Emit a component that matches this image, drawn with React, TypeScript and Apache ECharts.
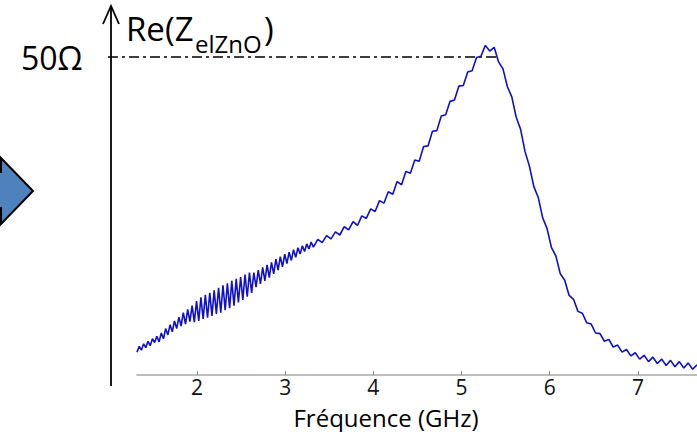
import React, { useEffect, useRef } from "react";
import * as echarts from "echarts";

// Frequency (GHz) and Re(Z_elZnO) (Ω)
const freqGHz: number[] = [
  1.32, 1.345, 1.37, 1.395, 1.42, 1.445, 1.47, 1.495, 1.52, 1.545, 1.57, 1.595, 1.62, 1.645, 1.67, 1.695,
  1.72, 1.745, 1.77, 1.795, 1.82, 1.845, 1.87, 1.895, 1.92, 1.945, 1.97, 1.995, 2.02, 2.045, 2.07, 2.095,
  2.12, 2.145, 2.17, 2.195, 2.22, 2.245, 2.27, 2.295, 2.32, 2.345, 2.37, 2.395, 2.42, 2.445, 2.47, 2.495,
  2.52, 2.545, 2.57, 2.595, 2.62, 2.645, 2.67, 2.695, 2.72, 2.745, 2.77, 2.795, 2.82, 2.845, 2.87, 2.895,
  2.92, 2.945, 2.97, 2.995, 3.02, 3.045, 3.07, 3.095, 3.12, 3.145, 3.17, 3.195, 3.22, 3.245, 3.27, 3.295,
  3.32,
  3.37, 3.42, 3.47, 3.52, 3.57, 3.62, 3.67, 3.72, 3.77, 3.82, 3.87, 3.92, 3.97, 4.02, 4.07, 4.12,
  4.17, 4.22, 4.27, 4.32, 4.37, 4.42, 4.47, 4.52, 4.57, 4.62, 4.67, 4.72, 4.77, 4.82, 4.87, 4.92,
  4.97, 5.02, 5.07, 5.12, 5.17, 5.22, 5.27, 5.32, 5.37, 5.42, 5.47, 5.52, 5.57, 5.62, 5.67, 5.72,
  5.77, 5.82, 5.87, 5.92, 5.97, 6.02, 6.07, 6.12, 6.17, 6.22, 6.27, 6.32, 6.37, 6.42, 6.47, 6.52,
  6.57, 6.62, 6.67, 6.72, 6.77, 6.82, 6.87, 6.92, 6.97, 7.02, 7.07, 7.12, 7.17, 7.22, 7.27, 7.32,
  7.37, 7.42, 7.47, 7.52, 7.57, 7.62, 7.67,
];

const reZ: number[] = [
  3.6, 4.5, 3.9, 4.9, 4.3, 5.3, 4.6, 5.7, 5.1, 6.1, 5.2, 6.6, 5.7, 7.3, 6.3, 7.9,
  6.8, 8.5, 7.3, 9.1, 7.7, 9.8, 8.0, 10.3, 8.4, 10.9, 8.3, 11.6, 8.5, 12.2, 8.8, 12.6,
  9.0, 12.9, 9.3, 13.3, 9.6, 13.7, 9.8, 14.1, 10.2, 14.4, 10.5, 14.8, 10.9, 15.1, 11.4, 15.4,
  11.8, 15.8, 12.3, 16.1, 12.9, 16.1, 13.8, 16.5, 14.3, 16.9, 14.8, 17.3, 15.3, 17.7, 15.9, 18.2,
  16.5, 18.6, 17.0, 19.0, 17.5, 19.3, 18.0, 19.7, 18.5, 20.0, 19.0, 20.3, 19.4, 20.6, 19.8, 20.9,
  20.1,
  21.3, 20.8, 21.9, 21.4, 22.5, 22.0, 23.3, 22.8, 24.1, 23.5, 25.0, 24.6, 26.1, 25.7, 27.4, 27.0,
  28.8, 28.4, 30.4, 29.9, 32.0, 31.7, 33.8, 33.6, 35.9, 36.0, 38.3, 38.4, 40.7, 40.9, 43.0, 43.2,
  45.4, 45.5, 47.6, 47.8, 49.9, 50.1, 51.8, 50.9, 51.5, 49.2, 48.1, 45.3, 43.7, 40.5, 38.6, 35.1,
  32.8, 29.6, 27.9, 24.7, 23.0, 20.0, 18.7, 15.9, 14.9, 12.5, 11.9, 10.0, 9.7, 8.2, 8.0, 6.6,
  6.5, 5.3, 5.6, 4.4, 4.7, 3.6, 4.0, 3.0, 3.5, 2.5, 3.1, 2.1, 2.8, 1.8, 2.5, 1.5,
  2.3, 1.3, 2.1, 1.1, 1.9, 0.9, 1.6,
];

const xTickValues: number[] = [2, 3, 4, 5, 6, 7];
const xMin = 1.32;
const xMax = 7.67;
const yMin = 0;
const yMax = 55;

const xAxisTitle = "Fréquence (GHz)";
const refLabel = "50Ω";
const titleMain = "Re(Z";
const titleSub = "elZnO";
const titleClose = ")";

const FONT = "Open Sans";

export default function App() {
  const ref = useRef<HTMLDivElement>(null);

  useEffect(() => {
    if (!ref.current) return;
    const chart = echarts.init(ref.current, undefined, { renderer: "svg" });
    const data = freqGHz.map((f, i) => [f, reZ[i]]);
    chart.setOption({
      animation: false,
      grid: { left: 137, right: 0, top: 25, bottom: 57 },
      xAxis: {
        type: "value",
        min: xMin,
        max: xMax,
        axisLine: { show: true, lineStyle: { color: "#a8a8a8", width: 1.5 } },
        axisTick: {
          show: true,
          inside: true,
          length: 4,
          customValues: xTickValues,
          lineStyle: { color: "#8a8a8a", width: 1 },
        },
        axisLabel: {
          customValues: xTickValues,
          formatter: (v: number) => String(v),
          fontSize: 21,
          fontFamily: FONT,
          color: "#111",
          margin: 1,
        },
        splitLine: { show: false },
      },
      yAxis: { type: "value", min: yMin, max: yMax, show: false },
      series: [
        {
          type: "line",
          data,
          showSymbol: false,
          symbol: "none",
          lineStyle: { color: "#1010cc", width: 1.6 },
          z: 5,
        },
      ],
      graphic: [
        {
          type: "polygon",
          shape: {
            points: [
              [-40, 172],
              [1, 172],
              [1, 158],
              [33, 191],
              [1, 224],
              [1, 208],
              [-40, 208],
            ],
          },
          style: { fill: "#4F81BD", stroke: "#000", lineWidth: 2 },
        },
        {
          type: "line",
          shape: { x1: 111, y1: 7, x2: 111, y2: 386 },
          style: { stroke: "#000", lineWidth: 1.8 },
        },
        {
          type: "polyline",
          shape: { points: [[103, 24], [111, 6], [119, 24]] },
          style: { stroke: "#000", lineWidth: 1.8, fill: "none" },
        },
        {
          type: "line",
          shape: { x1: 108, y1: 57, x2: 497, y2: 57 },
          style: { stroke: "#000", lineWidth: 1.5, lineDash: [10, 4, 3, 4] },
          z: 1,
        },
        {
          type: "text",
          x: 21,
          y: 57,
          style: { text: refLabel, font: `32px "${FONT}"`, fill: "#000", verticalAlign: "middle", align: "left" },
        },
        {
          type: "text",
          x: 126,
          y: 28,
          style: { text: titleMain, font: `33px "${FONT}"`, fill: "#000", verticalAlign: "middle", align: "left" },
        },
        {
          type: "text",
          x: 195,
          y: 43,
          style: { text: titleSub, font: `24px "${FONT}"`, fill: "#000", verticalAlign: "middle", align: "left" },
        },
        {
          type: "text",
          x: 264,
          y: 28,
          style: { text: titleClose, font: `33px "${FONT}"`, fill: "#000", verticalAlign: "middle", align: "left" },
        },
        {
          type: "text",
          x: 386,
          y: 417,
          style: {
            text: xAxisTitle,
            font: `24px "${FONT}"`,
            fill: "#000",
            verticalAlign: "middle",
            align: "center",
          },
        },
      ],
    });
    return () => chart.dispose();
  }, []);

  return (
    <div
      ref={ref}
      style={{ position: "fixed", left: 0, top: 0, width: 697, height: 432, background: "#fff" }}
    />
  );
}
